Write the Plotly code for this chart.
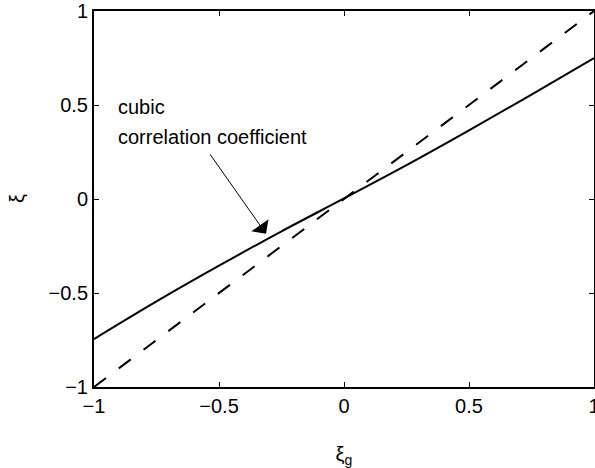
import plotly.graph_objects as go

# data
xi_g = [-1.0, -0.75, -0.5, -0.25, 0.0, 0.25, 0.5, 0.75, 1.0]
xi_cubic = [-0.745, -0.545, -0.355, -0.172, 0.003, 0.18, 0.365, 0.555, 0.75]
xi_ref = [-1.0, -0.75, -0.5, -0.25, 0.0, 0.25, 0.5, 0.75, 1.0]

tick_vals = [-1, -0.5, 0, 0.5, 1]
tick_text = ["\u22121", "\u22120.5", "0", "0.5", "1"]

FONT = "Liberation Sans, Arial, Helvetica, sans-serif"
FS = 20

fig = go.Figure()
fig.add_trace(go.Scatter(x=xi_g, y=xi_cubic, mode="lines", line=dict(color="black", width=2, shape="spline"), showlegend=False))
fig.add_trace(go.Scatter(x=xi_g, y=xi_ref, mode="lines", line=dict(color="black", width=2, dash="15px,16px"), showlegend=False))

fig.add_annotation(x=-0.312, y=-0.185, xref="x", yref="y", text="", showarrow=True,
                   ax=-57, ay=-81, arrowhead=1, arrowsize=3.5, arrowwidth=1, arrowcolor="black", standoff=0)
fig.add_annotation(x=-0.912, y=(199 - 107) / 188, xref="x", yref="y", text="cubic", showarrow=False,
                   xanchor="left", yanchor="middle", font=dict(family=FONT, size=FS, color="black"))
fig.add_annotation(x=-0.912, y=(199 - 137) / 188, xref="x", yref="y", text="correlation coefficient", showarrow=False,
                   xanchor="left", yanchor="middle", font=dict(family=FONT, size=FS, color="black"))
# y-axis title (placed as an annotation so it sits where the reference has it)
fig.add_annotation(x=(17 - 94) / 500, y=0.5, xref="paper", yref="paper", text="\u03be", showarrow=False,
                   textangle=-90, xanchor="center", yanchor="middle",
                   font=dict(family=FONT, size=FS, color="black"))

axis_common = dict(range=[-1, 1], tickvals=tick_vals, ticktext=tick_text, ticks="inside", ticklen=5,
                   tickwidth=1, tickcolor="black", showline=True, linecolor="black", linewidth=2,
                   mirror="ticks", showgrid=False, zeroline=False, automargin=False,
                   ticklabeloverflow="allow",
                   tickfont=dict(family=FONT, size=FS, color="black"))

fig.update_xaxes(**axis_common, title=dict(text="\u03be<sub>g</sub>", font=dict(family=FONT, size=FS, color="black"), standoff=43))
fig.update_yaxes(**axis_common)

fig.update_layout(width=595, height=468, margin=dict(l=94, r=1, t=11, b=81),
                  paper_bgcolor="white", plot_bgcolor="white")

# remove the default 8px page margin so the figure fills the window exactly
fig.write_html("out.html", config={"displayModeBar": False},
               post_script="document.body.style.margin='0px';")
